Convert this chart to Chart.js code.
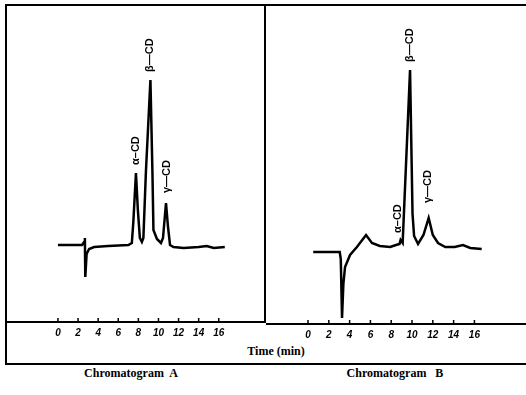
<!DOCTYPE html>
<html>
<head>
<meta charset="utf-8">
<script src="https://cdn.jsdelivr.net/npm/chart.js@4/dist/chart.umd.min.js"></script>
<style>
  html, body { margin: 0; padding: 0; background: #fff; width: 526px; height: 395px; overflow: hidden; }
  .box { position: absolute; left: 5px; top: 4px; width: 540px; height: 357px;
         border-left: 2px solid #000; border-top: 2px solid #000; border-bottom: 2px solid #000; }
  .divider { position: absolute; left: 264px; top: 4px; width: 2px; height: 319px; background: #000; }
  canvas { position: absolute; }
  .txt { position: absolute; font-family: "Liberation Serif", "DejaVu Serif", serif; font-weight: bold; color: #000; white-space: nowrap; transform: translateX(-50%); }
</style>
</head>
<body>
<div class="box"></div>
<div class="divider"></div>
<canvas id="chartA" width="258" height="335" style="left:7px; top:5px;"></canvas>
<canvas id="chartB" width="260" height="337" style="left:266px; top:5px;"></canvas>
<div class="txt" style="left:276px; top:344px; font-size:12px;">Time (min)</div>
<div class="txt" style="left:131px; top:366px; font-size:12px;">Chromatogram&nbsp; A</div>
<div class="txt" style="left:395px; top:366px; font-size:12px;">Chromatogram&nbsp;&nbsp; B</div>
<script>
// ---- data ----
const timeTicks = [0, 2, 4, 6, 8, 10, 12, 14, 16];

// Chromatogram A: retention time (min) and detector response (arbitrary units)
const timeA   = [0, 2.4, 2.6, 2.68, 2.72, 2.85, 3.1, 3.6, 5, 7, 7.35, 7.5, 7.76, 7.95, 8.15, 8.35, 8.5, 8.75, 9.2, 9.4, 9.5, 9.85, 10.25, 10.45, 10.75, 10.95, 11.15, 11.5, 12.5, 14, 14.8, 15.5, 16.6];
const signalA = [77, 77, 80, 84, 45, 68, 73, 75, 76, 77, 79, 100, 149, 112, 84, 80, 84, 150, 242, 150, 92, 83, 79, 84, 119, 95, 77, 75, 74, 75, 76, 74, 75];

// Chromatogram B
const timeB   = [0.5, 3.05, 3.15, 3.27, 3.4, 3.56, 4.04, 4.7, 5.58, 6.15, 6.9, 7.9, 8.46, 8.8, 8.9, 9.1, 9.81, 10.05, 10.2, 10.58, 11.1, 11.6, 12.0, 12.5, 13.2, 14.1, 14.9, 15.6, 16.7];
const signalB = [72, 72, 65, 6, 40, 57, 69, 77, 89, 81, 78, 77, 79, 80, 84, 81, 254, 110, 88, 80, 89, 106, 89, 81, 77, 77, 79, 76, 75];

// Peak annotations: name, retention time, and response level where the label starts
const peakNames      = ['α–CD', 'β—CD', 'γ—CD'];
const peakTimeA      = [7.76, 9.15, 10.85];
const peakLevelA     = [157, 250, 129];
const peakTimeB      = [8.65, 9.81, 11.54];
const peakLevelB     = [91, 262, 121];

// ---- plugins ----
const upTicks = {
  id: 'upTicks',
  afterDatasetsDraw(chart) {
    const s = chart.scales.x, ctx = chart.ctx, y = s.top;
    ctx.save();
    ctx.strokeStyle = '#000';
    ctx.lineWidth = 1.5;
    s.ticks.forEach(t => {
      const x = s.getPixelForValue(t.value);
      ctx.beginPath(); ctx.moveTo(x, y); ctx.lineTo(x, y - 4); ctx.stroke();
    });
    ctx.restore();
  }
};
const peakLabels = {
  id: 'peakLabels',
  afterDatasetsDraw(chart, args, opts) {
    const ctx = chart.ctx, sx = chart.scales.x, sy = chart.scales.y;
    ctx.save();
    ctx.fillStyle = '#000';
    ctx.font = 'bold 11px "Liberation Sans", Arial, sans-serif';
    ctx.textAlign = 'left';
    ctx.textBaseline = 'middle';
    opts.names.forEach((n, i) => {
      const x = sx.getPixelForValue(opts.times[i]);
      const y = sy.getPixelForValue(opts.levels[i]);
      ctx.save();
      ctx.translate(x, y);
      ctx.rotate(-Math.PI / 2);
      ctx.fillText(n, 0, 0);
      ctx.restore();
    });
    ctx.restore();
  }
};

function makeChart(id, times, signals, xmin, xmax, ymax, pTimes, pLevels) {
  return new Chart(document.getElementById(id), {
    type: 'line',
    data: {
      datasets: [{
        data: times.map((t, i) => ({ x: t, y: signals[i] })),
        borderColor: '#000',
        borderWidth: 2.5,
        pointRadius: 0,
        tension: 0,
        fill: false
      }]
    },
    options: {
      responsive: false,
      animation: false,
      events: [],
      layout: { padding: 0 },
      plugins: {
        legend: { display: false },
        tooltip: { enabled: false },
        peakLabels: { names: peakNames, times: pTimes, levels: pLevels }
      },
      scales: {
        x: {
          type: 'linear',
          min: xmin, max: xmax,
          afterBuildTicks: s => { s.ticks = timeTicks.map(v => ({ value: v })); },
          afterFit: s => { s.height = 18; },
          grid: { display: true, drawOnChartArea: false, drawTicks: false },
          border: { display: true, color: '#000', width: 2 },
          ticks: {
            autoSkip: false, maxRotation: 0, padding: 5, color: '#000',
            font: { family: '"Liberation Sans", Arial, sans-serif', size: 10, weight: 'bold', style: 'italic' }
          }
        },
        y: { display: false, min: 0, max: ymax }
      }
    },
    plugins: [upTicks, peakLabels]
  });
}

makeChart('chartA', timeA, signalA, -5.07, 20.6, 317, peakTimeA, peakLevelA);
makeChart('chartB', timeB, signalB, -4.04, 20.96, 319, peakTimeB, peakLevelB);
</script>
</body>
</html>
